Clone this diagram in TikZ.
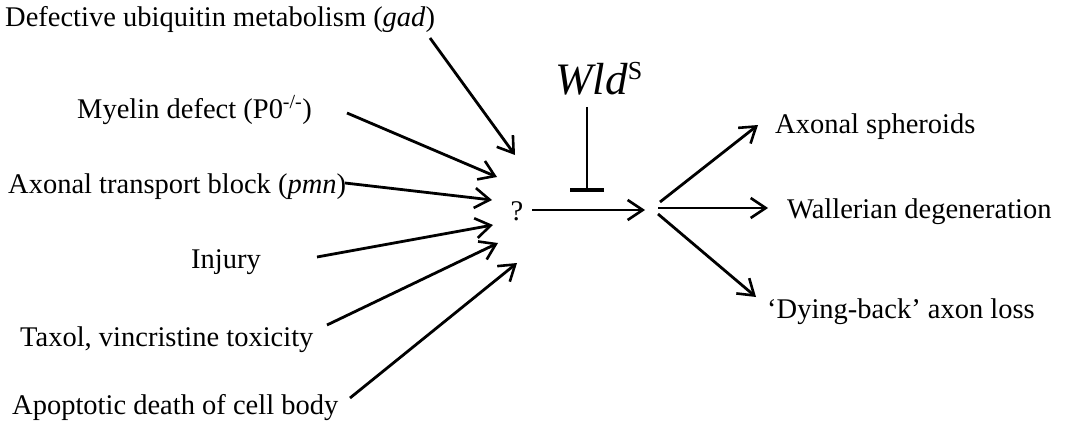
\documentclass[tikz,border=0pt]{standalone}
\usepackage{fontspec}
\setmainfont{Liberation Serif}
\usetikzlibrary{arrows.meta}
\begin{document}
\begin{tikzpicture}[x=1pt,y=-1pt,
  lbl/.style={inner sep=0pt,anchor=base west,font=\fontsize{28.5}{34}\selectfont},
  arr/.style={line width=2.8pt,-{Straight Barb[length=15pt,width=20pt,line width=2.6pt]}},
  inh/.style={line width=2.8pt,-{Bar[width=34pt,line width=4pt]}}]
\useasboundingbox (0,0) rectangle (1070,441);
% left labels
\node[lbl] (gad) at (5,27) {Defective ubiquitin metabolism (\textit{gad})};
\node[lbl] (myel) at (77,118) {Myelin defect (P0\textsuperscript{-/-})};
\node[lbl] (pmn) at (8,193) {Axonal transport block (\textit{pmn})};
\node[lbl] (inj) at (191,268) {Injury};
\node[lbl] (tax) at (20,346) {Taxol, vincristine toxicity};
\node[lbl] (apo) at (12,414) {Apoptotic death of cell body};
% centre
\node[lbl,anchor=base] (q) at (517,220) {?};
\node[inner sep=0pt,anchor=base west] (wld) at (555,95)
  {\fontsize{45}{50}\selectfont\textit{Wld}\raisebox{15pt}{\fontsize{26}{26}\selectfont S}};
% right labels
\node[lbl] (sph) at (775,133) {Axonal spheroids};
\node[lbl] (wal) at (787,218) {Wallerian degeneration};
\node[lbl] (dyb) at (767,318) {`Dying-back' axon loss};
% coordinates
\coordinate (s1) at (430,38);  \coordinate (e1) at (515,155);
\coordinate (s2) at (347,113); \coordinate (e2) at (497,177);
\coordinate (s3) at (345,183); \coordinate (e3) at (492,200);
\coordinate (s4) at (317,257); \coordinate (e4) at (493,225);
\coordinate (s5) at (327,325); \coordinate (e5) at (498,243);
\coordinate (s6) at (350,398); \coordinate (e6) at (517,263);
\coordinate (hs) at (532,210); \coordinate (he) at (645,210);
\coordinate (us) at (660,202); \coordinate (ue) at (758,125);
\coordinate (ms) at (658,208); \coordinate (me) at (768,208);
\coordinate (ls) at (658,214); \coordinate (le) at (756,297);
\coordinate (bs) at (587,107); \coordinate (be) at (587,192);
% arrows
\draw[arr] (s1) -- (e1);
\draw[arr] (s2) -- (e2);
\draw[arr] (s3) -- (e3);
\draw[arr] (s4) -- (e4);
\draw[arr] (s5) -- (e5);
\draw[arr] (s6) -- (e6);
\draw[arr] (hs) -- (he);
\draw[arr] (us) -- (ue);
\draw[arr] (ms) -- (me);
\draw[arr] (ls) -- (le);
\draw[inh] (bs) -- (be);
\end{tikzpicture}
\end{document}
